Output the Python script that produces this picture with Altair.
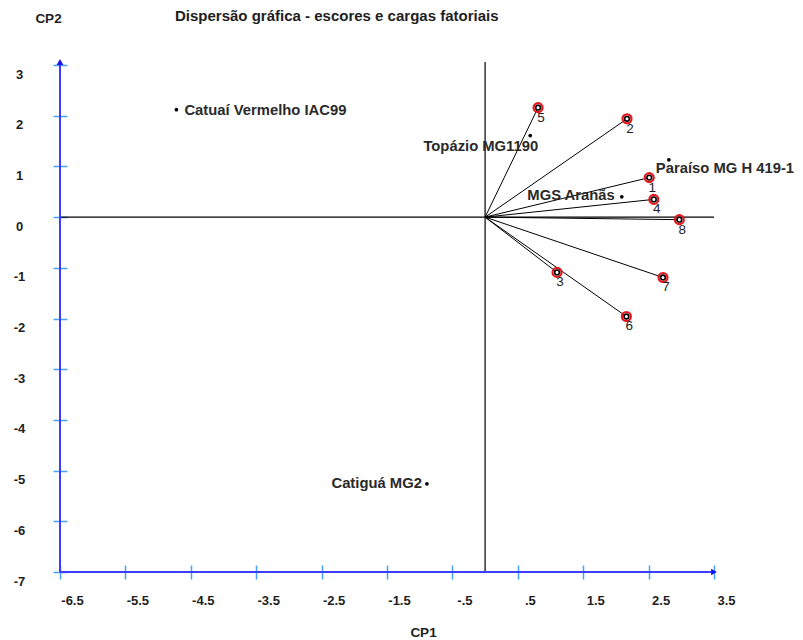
import altair as alt
import pandas as pd

# ---- data ----
score_names = ["Catuaí Vermelho IAC99", "Topázio MG1190", "Paraíso MG H 419-1", "MGS Aranãs", "Catiguá MG2"]
score_x = [-4.72, 0.69, 2.81, 2.09, -0.89]
score_y = [2.12, 1.61, 1.13, 0.40, -5.26]

load_ids = ["1", "2", "3", "4", "5", "6", "7", "8"]
load_x = [2.51, 2.17, 1.10, 2.58, 0.81, 2.16, 2.72, 2.97]
load_y = [0.78, 1.94, -1.09, 0.35, 2.16, -1.96, -1.19, -0.05]

x_ticks = [-6.5, -5.5, -4.5, -3.5, -2.5, -1.5, -0.5, 0.5, 1.5, 2.5, 3.5]
x_tick_labels = ["-6.5", "-5.5", "-4.5", "-3.5", "-2.5", "-1.5", "-.5", ".5", "1.5", "2.5", "3.5"]
y_ticks = [3, 2, 1, 0, -1, -2, -3, -4, -5, -6, -7]

X_DOMAIN = [-6.5, 3.5]
Y_DOMAIN = [-7.0, 3.06]

FONT = "Liberation Sans"
TXT = "#1e1e1e"
AXIS_BLUE = "#3c3cff"
TICK_BLUE = "#4aa0ff"

# ---- tables ----
scores = pd.DataFrame({"name": score_names, "x": score_x, "y": score_y})
loads = pd.DataFrame({"id": load_ids, "x": load_x, "y": load_y})
loads["ox"] = 0.0
loads["oy"] = 0.0

xs = alt.Scale(domain=X_DOMAIN, nice=False, zero=False)
ys = alt.Scale(domain=Y_DOMAIN, nice=False, zero=False)

label_arr = "[" + ",".join("'%s'" % s for s in x_tick_labels) + "]"
x_axis = alt.Axis(
    values=x_ticks, labelExpr=label_arr + "[round(datum.value + 6.5)]",
    domain=False, grid=False, offset=-7, tickSize=14, tickColor=TICK_BLUE, tickWidth=1.5,
    labelFont=FONT, labelFontWeight="bold", labelFontSize=13, labelColor=TXT,
    labelPadding=15, labelOffset=12, labelBaseline="top", labelAlign="center",
    labelFlush=False, labelOverlap=False,
    title="CP1", titleX=363, titleY=67, titleFont=FONT, titleFontWeight="bold",
    titleFontSize=13.5, titleColor=TXT, titleAlign="center", titleBaseline="middle",
)
y_axis = alt.Axis(
    values=y_ticks, labelExpr="'' + datum.value",
    domain=False, grid=False, offset=-7, tickSize=14, tickColor=TICK_BLUE, tickWidth=1.5,
    labelFont=FONT, labelFontWeight="bold", labelFontSize=13, labelColor=TXT,
    labelPadding=34, labelOffset=9, labelBaseline="middle", labelAlign="center",
    labelFlush=False, labelOverlap=False,
    title="CP2", titleAngle=0, titleX=-19, titleY=-44, titleFont=FONT, titleFontWeight="bold",
    titleFontSize=13.5, titleColor=TXT, titleAlign="center", titleBaseline="middle",
)


def X(field, **kw):
    return alt.X(field, type="quantitative", scale=xs, axis=x_axis, **kw)


def Y(field, **kw):
    return alt.Y(field, type="quantitative", scale=ys, axis=y_axis, **kw)


# axis lines (blue) and zero lines (black), from the domains
frame = pd.DataFrame({
    "x": [X_DOMAIN[0], X_DOMAIN[0]], "x2": [X_DOMAIN[0], X_DOMAIN[1]],
    "y": [Y_DOMAIN[0], Y_DOMAIN[0]], "y2": [Y_DOMAIN[1], Y_DOMAIN[0]],
})
zero = pd.DataFrame({
    "x": [0.0, X_DOMAIN[0]], "x2": [0.0, X_DOMAIN[1]],
    "y": [Y_DOMAIN[0], 0.0], "y2": [Y_DOMAIN[1], 0.0],
})
arrows = pd.DataFrame({"x": [X_DOMAIN[0], X_DOMAIN[1]], "y": [Y_DOMAIN[1], Y_DOMAIN[0]],
                       "shape": ["triangle-up", "triangle-right"]})

zero_layer = alt.Chart(zero).mark_rule(color="black", strokeWidth=1.2).encode(
    x=X("x"), y=Y("y"), x2="x2", y2="y2")
frame_layer = alt.Chart(frame).mark_rule(color=AXIS_BLUE, strokeWidth=2).encode(
    x=X("x"), y=Y("y"), x2="x2", y2="y2")
arrow_layer = alt.Chart(arrows).mark_point(filled=True, color="#1515ee", size=45, opacity=1).encode(
    x=X("x"), y=Y("y"),
    shape=alt.Shape("shape:N", scale=None, legend=None))

vec_layer = alt.Chart(loads).mark_rule(color="black", strokeWidth=1).encode(
    x=X("ox"), y=Y("oy"), x2="x", y2="y")
ring_layer = alt.Chart(loads).mark_point(shape="circle", filled=False, stroke="#e8141c",
                                         strokeWidth=2.2, size=80, opacity=1).encode(
    x=X("x"), y=Y("y"))
inner_layer = alt.Chart(loads).mark_point(shape="circle", filled=True, fill="white", stroke="black",
                                          strokeWidth=1.6, size=22, opacity=1).encode(
    x=X("x"), y=Y("y"))
num_layer = alt.Chart(loads).mark_text(dx=3, dy=10, align="center", baseline="middle",
                                       font=FONT, fontSize=13.5, color=TXT).encode(
    x=X("x"), y=Y("y"), text="id:N")

dot_layer = alt.Chart(scores).mark_circle(size=14, color="black", opacity=1).encode(
    x=X("x"), y=Y("y"))

# label placement styles per score (align, dx, dy)
label_style = {
    "Catuaí Vermelho IAC99": ("left", 8, 1),
    "Topázio MG1190": ("right", 8, 11),
    "Paraíso MG H 419-1": ("left", -13, 9),
    "MGS Aranãs": ("right", -7, -1),
    "Catiguá MG2": ("right", -5, 0),
}
label_layers = []
for nm, (al, dx, dy) in label_style.items():
    label_layers.append(
        alt.Chart(scores).transform_filter(alt.datum.name == nm).mark_text(
            align=al, dx=dx, dy=dy, baseline="middle", font=FONT, fontSize=14.8,
            fontWeight="bold", color="#2a2a2a").encode(x=X("x"), y=Y("y"), text="name:N")
    )

chart = alt.layer(
    zero_layer, vec_layer, frame_layer, arrow_layer, ring_layer, inner_layer, num_layer,
    dot_layer, *label_layers,
).properties(
    width=654, height=510,
    title=alt.TitleParams("Dispersão gráfica - escores e cargas fatoriais", anchor="start",
                          frame="group", dx=115, dy=13, offset=0, font=FONT, fontSize=15,
                          fontWeight="bold", color=TXT),
    autosize=alt.AutoSizeParams(type="none"),
    padding={"left": 60, "top": 62, "right": 89, "bottom": 68},
).configure(background="white").configure_view(stroke="transparent", strokeWidth=0)

chart.save("out.html", embed_options={"renderer": "svg", "actions": False})
